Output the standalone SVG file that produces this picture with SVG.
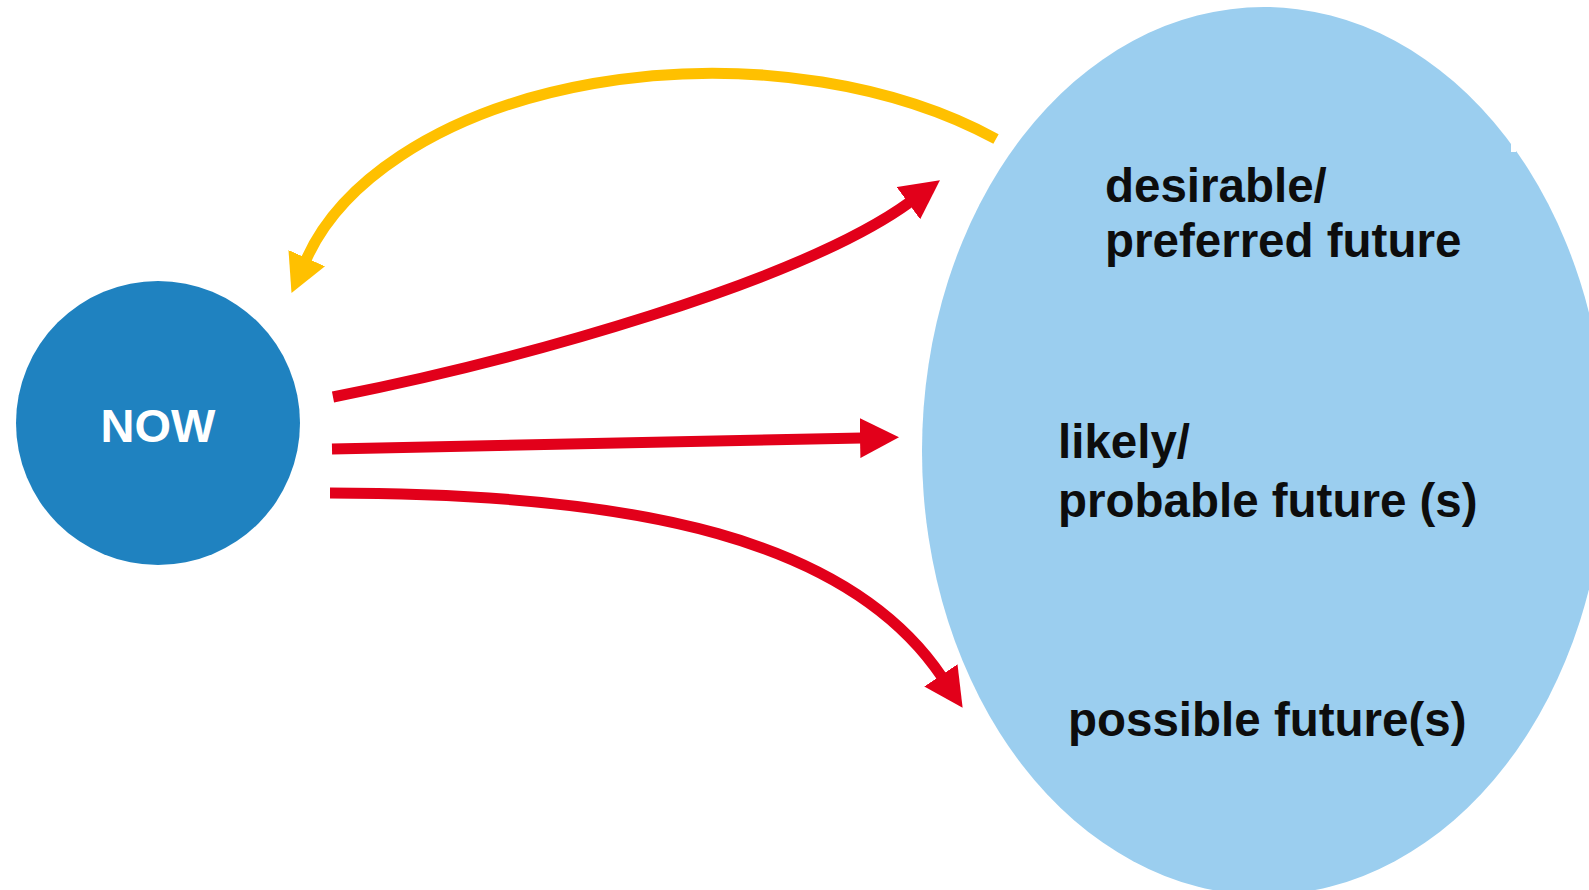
<svg xmlns="http://www.w3.org/2000/svg" width="1589" height="890" viewBox="0 0 1589 890">
  <style>
    .lbl { font-family: "Liberation Sans", Arial, sans-serif; font-weight: bold; font-size: 47.5px; fill: #0d0d0d; }
    .now { font-family: "Liberation Sans", Arial, sans-serif; font-weight: bold; font-size: 47px; fill: #ffffff; }
    .red { fill: none; stroke: #e2001a; stroke-width: 11; }
    .yel { fill: none; stroke: #ffc000; stroke-width: 11; }
  </style>
  <defs>
    <marker id="ah-red" markerUnits="userSpaceOnUse" viewBox="0 0 40 40" markerWidth="40" markerHeight="40" refX="2" refY="20" orient="auto">
      <path d="M0,0 L39,20 L0,40 z" fill="#e2001a"/>
    </marker>
    <marker id="ah-yel" markerUnits="userSpaceOnUse" viewBox="0 0 40 40" markerWidth="40" markerHeight="40" refX="2" refY="20" orient="auto">
      <path d="M0,0 L38,20 L0,40 z" fill="#ffc000"/>
    </marker>
  </defs>
  <rect width="1589" height="890" fill="#ffffff"/>

  <g id="futures">
    <ellipse cx="1264" cy="451" rx="342" ry="444" fill="#9bceef"/>
    <rect x="1511" y="144" width="5" height="8" fill="#ffffff"/>
    <text class="lbl" x="1105" y="202">desirable/</text>
    <text class="lbl" x="1105" y="257">preferred future</text>
    <text class="lbl" x="1058" y="458">likely/</text>
    <text class="lbl" x="1058" y="517">probable future (s)</text>
    <text class="lbl" x="1068" y="736">possible future(s)</text>
  </g>

  <g id="now">
    <circle cx="158" cy="423" r="142" fill="#1f82c0"/>
    <text class="now" x="158" y="442" text-anchor="middle">NOW</text>
  </g>

  <g id="connectors">
    <path class="yel" d="M996,139 A420,250 0 0 0 306,260" marker-end="url(#ah-yel)"/>
    <path class="red" d="M333,397 C520,360 800,282 910,202" marker-end="url(#ah-red)"/>
    <path class="red" d="M332,449 L862,438" marker-end="url(#ah-red)"/>
    <path class="red" d="M330,493 C640,493 850,540 942,677" marker-end="url(#ah-red)"/>
  </g>
</svg>
